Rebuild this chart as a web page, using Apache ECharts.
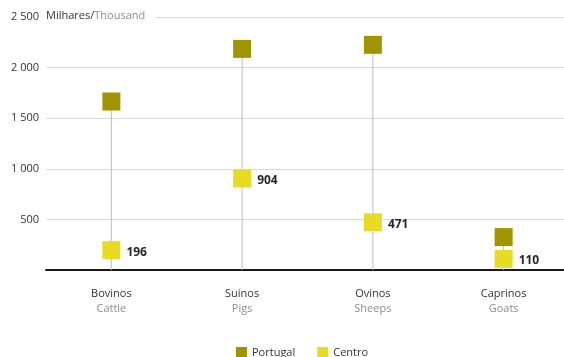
<!DOCTYPE html>
<html>
<head>
<meta charset="utf-8">
<script src="https://cdn.jsdelivr.net/npm/echarts@6/dist/echarts.min.js"></script>
<style>
  html, body { margin: 0; padding: 0; background: #fff; }
  #chart { width: 564px; height: 357px; }
</style>
</head>
<body>
<div id="chart"></div>
<script>
// categories (pt / en)
var categoriesPt = ['Bovinos', 'Suínos', 'Ovinos', 'Caprinos'];
var categoriesEn = ['Cattle', 'Pigs', 'Sheeps', 'Goats'];
// milhares / thousand heads
var portugal = [1665, 2185, 2225, 325];
var centro = [196, 904, 471, 110];

var FONT = '"Open Sans", "Noto Sans", sans-serif';
var myChart = echarts.init(document.getElementById('chart'));

var option = {
  animation: false,
  textStyle: { fontFamily: FONT },
  grid: { left: 46, width: 523, top: 17, bottom: 87, outerBoundsMode: 'none', containLabel: false },
  legend: {
    top: 342,
    left: 231,
    itemWidth: 11,
    itemHeight: 11,
    itemGap: 22,
    icon: 'rect',
    textStyle: { fontSize: 11, color: '#333', fontFamily: FONT },
    data: ['Portugal', 'Centro']
  },
  xAxis: {
    type: 'category',
    data: categoriesPt,
    axisLine: { lineStyle: { color: '#1a1a1a', width: 2 } },
    axisTick: { show: false },
    axisLabel: {
      margin: 16,
      interval: 0,
      formatter: function (val, i) {
        return '{pt|' + val + '}\n{en|' + categoriesEn[i] + '}';
      },
      rich: {
        pt: { fontSize: 11, color: '#333', lineHeight: 15, fontFamily: FONT },
        en: { fontSize: 11, color: '#8c8c8c', lineHeight: 15, fontFamily: FONT }
      }
    }
  },
  yAxis: {
    type: 'value',
    min: 0,
    max: 2500,
    interval: 500,
    axisLine: { show: false },
    axisTick: { show: false },
    splitLine: { lineStyle: { color: '#d9d9d9', width: 1 } },
    axisLabel: {
      margin: 7,
      fontSize: 11,
      color: '#333',
      fontFamily: FONT,
      formatter: function (v) {
        if (v === 0) return '';
        return String(v).replace(/\B(?=(\d{3})+(?!\d))/g, ' ');
      }
    }
  },
  graphic: [{
    type: 'text',
    left: 44,
    top: 10,
    z: 100,
    style: {
      text: '{a|Milhares/}{b|Thousand}',
      backgroundColor: '#fff',
      padding: [0, 10, 0, 2],
      rich: {
        a: { fontSize: 11, fill: '#333', fontFamily: FONT },
        b: { fontSize: 11, fill: '#8c8c8c', fontFamily: FONT }
      }
    }
  }],
  series: [
    {
      // thin stem from axis up to Portugal value
      name: 'stem',
      type: 'bar',
      data: portugal,
      barWidth: 1,
      silent: true,
      itemStyle: { color: '#bdbdbd' },
      z: 1
    },
    {
      name: 'Portugal',
      type: 'scatter',
      data: portugal,
      symbol: 'rect',
      symbolSize: 18,
      itemStyle: { color: '#a09400', opacity: 1 },
      z: 3
    },
    {
      name: 'Centro',
      type: 'scatter',
      data: centro,
      symbol: 'rect',
      symbolSize: 18,
      itemStyle: { color: '#e6dc26', opacity: 1 },
      z: 4,
      label: {
        show: true,
        position: 'right',
        distance: 6,
        offset: [0, 2],
        fontSize: 12,
        fontWeight: 'bold',
        color: '#262626',
        fontFamily: FONT
      }
    }
  ]
};
myChart.setOption(option);
</script>
</body>
</html>
